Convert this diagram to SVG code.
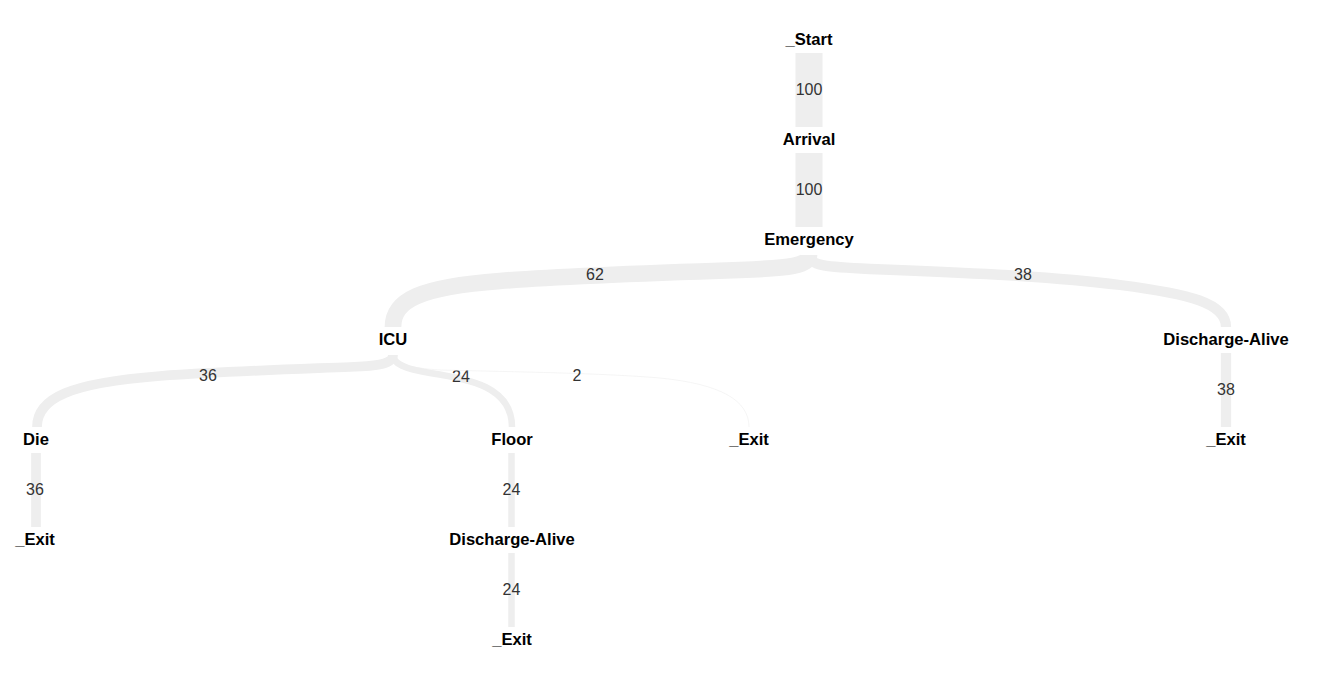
<svg xmlns="http://www.w3.org/2000/svg" width="1317" height="680" viewBox="0 0 1317 680">
<style>
  .bg { fill: #ffffff; }
  .edge { fill: none; stroke: #eeeeee; stroke-linecap: butt; }
  .elabel { font-family: "Liberation Sans", Arial, sans-serif; font-size: 16px; fill: #333333; text-anchor: middle; }
  .nlabel { font-family: "Liberation Sans", Arial, sans-serif; font-size: 16.6px; font-weight: bold; fill: #000000; text-anchor: middle; }
</style>
<rect class="bg" x="0" y="0" width="1317" height="680"/>
<g id="connectors">
  <g id="e-start-arrival">
    <path class="edge" d="M 809,53 L 809,127" style="stroke-width:27"/>
    <text class="elabel" x="809" y="95">100</text>
  </g>
  <g id="e-arrival-emergency">
    <path class="edge" d="M 809,153 L 809,227" style="stroke-width:27"/>
    <text class="elabel" x="809" y="195">100</text>
  </g>
  <g id="e-emergency-icu">
    <path class="edge" d="M 809,255 C 809,266 790,268 740,270 C 680,272 560,276 500,281 C 420,287 393,300 393,327" style="stroke-width:16.7"/>
    <text class="elabel" x="595" y="280">62</text>
  </g>
  <g id="e-emergency-discharge">
    <path class="edge" d="M 809,255 C 809,266 828,267 870,269 C 950,272 1050,276 1120,285 C 1190,294 1226,303 1226,327" style="stroke-width:10.3"/>
    <text class="elabel" x="1023" y="280">38</text>
  </g>
  <g id="e-icu-die">
    <path class="edge" d="M 393,355 C 393,364 378,366 350,367 C 300,369 230,371 160,376 C 70,383 37,398 37,427" style="stroke-width:9.7"/>
    <text class="elabel" x="208" y="381">36</text>
  </g>
  <g id="e-icu-floor">
    <path class="edge" d="M 393,355 C 393,364 405,369 430,373 C 470,379 512,387 512,427" style="stroke-width:6.5"/>
    <text class="elabel" x="461" y="382">24</text>
  </g>
  <g id="e-icu-exit">
    <path class="edge" d="M 393,355 C 393,364 410,368 440,370 C 520,372 600,373 660,378 C 720,384 749,400 749,427" style="stroke-width:0.6"/>
    <text class="elabel" x="577" y="381">2</text>
  </g>
  <g id="e-discharge-exit">
    <path class="edge" d="M 1226,353 L 1226,427" style="stroke-width:10.3"/>
    <text class="elabel" x="1226" y="395">38</text>
  </g>
  <g id="e-die-exit">
    <path class="edge" d="M 36,453 L 36,527" style="stroke-width:9.7"/>
    <text class="elabel" x="35" y="495">36</text>
  </g>
  <g id="e-floor-discharge">
    <path class="edge" d="M 511.5,453 L 511.5,527" style="stroke-width:6.5"/>
    <text class="elabel" x="511.5" y="495">24</text>
  </g>
  <g id="e-discharge2-exit">
    <path class="edge" d="M 511.5,553 L 511.5,627" style="stroke-width:6.5"/>
    <text class="elabel" x="511.5" y="595">24</text>
  </g>
</g>
<g id="n-start"><text class="nlabel" x="809" y="45">_Start</text></g>
<g id="n-arrival"><text class="nlabel" x="809" y="145">Arrival</text></g>
<g id="n-emergency"><text class="nlabel" x="809" y="245">Emergency</text></g>
<g id="n-icu"><text class="nlabel" x="393" y="345">ICU</text></g>
<g id="n-discharge-alive-1"><text class="nlabel" x="1226" y="345">Discharge-Alive</text></g>
<g id="n-die"><text class="nlabel" x="36" y="445">Die</text></g>
<g id="n-floor"><text class="nlabel" x="512" y="445">Floor</text></g>
<g id="n-exit-icu"><text class="nlabel" x="749" y="445">_Exit</text></g>
<g id="n-exit-discharge"><text class="nlabel" x="1226" y="445">_Exit</text></g>
<g id="n-exit-die"><text class="nlabel" x="35" y="545">_Exit</text></g>
<g id="n-discharge-alive-2"><text class="nlabel" x="512" y="545">Discharge-Alive</text></g>
<g id="n-exit-floor"><text class="nlabel" x="512" y="645">_Exit</text></g>
</svg>
